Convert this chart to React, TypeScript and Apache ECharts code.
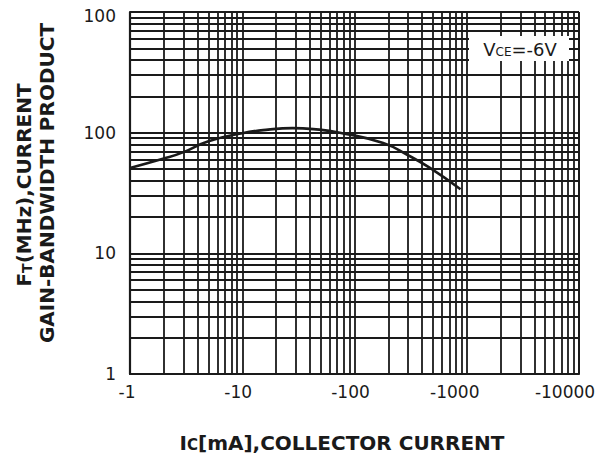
import React, { useEffect, useRef } from "react";
import * as echarts from "echarts";

// Curve: Ic (mA, magnitude) vs fT (MHz)
const icValues = [1, 2, 3, 5, 10, 17, 28, 43, 74, 180, 300, 470, 880];
const ftValues = [51, 61, 69, 85, 99, 106, 109, 107, 100, 82, 65, 51, 34];

// Axis tick labels (as printed on the datasheet)
const xTickLabels = ["-1", "-10", "-100", "-1000", "-10000"];
const yTickLabels = ["1", "10", "100", "100"];

// Minor grid multipliers within each decade
const minorMultipliers = [2, 3, 4, 5, 6, 7, 8, 9];
const xDecades = [1, 10, 100, 1000];
const yDecades = [1, 10, 100];

const INK = "#1a1a1a";
const FONT = "'DejaVu Sans', Verdana, sans-serif";

// label nudges (as on the printed sheet): right padding per x label, top padding per y label
const xLabelPad = [6, 8, 8, 24, 28];
const yLabelPad = [0, 0, 0, 8];

export default function App() {
  const ref = useRef<HTMLDivElement>(null);
  useEffect(() => {
    if (!ref.current) return;
    const chart = echarts.init(ref.current, undefined, { renderer: "svg" });

    const xMinor: number[] = [];
    xDecades.forEach((d) => minorMultipliers.forEach((m) => xMinor.push(d * m)));
    const yMinor: number[] = [];
    yDecades.forEach((d) => minorMultipliers.forEach((m) => yMinor.push(d * m)));

    const lineStyle = { color: INK, width: 1.8, type: "solid" as const };
    const tickFont = { fontSize: 17, fontFamily: FONT, color: INK };

    const xRich: Record<string, object> = {};
    xLabelPad.forEach((p, i) => (xRich["x" + i] = { ...tickFont, padding: [0, p, 0, 0] }));
    const yRich: Record<string, object> = {};
    yLabelPad.forEach((p, i) => (yRich["y" + i] = { ...tickFont, padding: [p, 0, 0, 0] }));

    chart.setOption({
      animation: false,
      backgroundColor: "#fff",
      grid: { left: 130, right: 33, top: 12, bottom: 95, containLabel: false },
      xAxis: {
        type: "log",
        logBase: 10,
        min: 1,
        max: 10000,
        axisLine: { show: true, lineStyle: { color: INK, width: 2.2 } },
        axisTick: { show: false },
        splitLine: { show: true, lineStyle: { color: INK, width: 1.8 } },
        axisLabel: {
          ...tickFont,
          margin: 9,
          rich: xRich,
          formatter: (v: number) => {
            const i = Math.round(Math.log10(v));
            return xTickLabels[i] !== undefined ? `{x${i}|${xTickLabels[i]}}` : "";
          },
        },
      },
      yAxis: {
        type: "log",
        logBase: 10,
        min: 1,
        max: 1000,
        axisLine: { show: true, lineStyle: { color: INK, width: 2.2 } },
        axisTick: { show: false },
        splitLine: { show: true, lineStyle: { color: INK, width: 1.8 } },
        axisLabel: {
          ...tickFont,
          margin: 14,
          rich: yRich,
          formatter: (v: number) => {
            const i = Math.round(Math.log10(v));
            return yTickLabels[i] !== undefined ? `{y${i}|${yTickLabels[i]}}` : "";
          },
        },
      },
      series: [
        {
          type: "line",
          data: [],
          silent: true,
          markLine: {
            silent: true,
            symbol: "none",
            animation: false,
            label: { show: false },
            lineStyle,
            data: [
              ...xMinor.map((v) => ({ xAxis: v })),
              ...yMinor.map((v) => ({ yAxis: v })),
              { xAxis: 10000 },
              { yAxis: 1000 },
            ],
          },
        },
        {
          type: "line",
          smooth: true,
          symbol: "none",
          z: 10,
          lineStyle: { color: INK, width: 2.6 },
          data: icValues.map((x, i) => [x, ftValues[i]]),
        },
      ],
      graphic: [
        {
          type: "rect",
          z: 100,
          shape: { x: 469, y: 36, width: 100, height: 25 },
          style: { fill: "#fff" },
        },
        {
          type: "text",
          z: 101,
          x: 520,
          y: 49,
          style: {
            text: "{a|V}{b|CE}{a|=-6V}",
            align: "center",
            verticalAlign: "middle",
            fill: INK,
            rich: {
              a: { fontSize: 18, fontFamily: FONT, fill: INK },
              b: { fontSize: 12, fontFamily: FONT, fill: INK, padding: [5, 0, 0, 0] },
            },
          },
        },
        {
          type: "text",
          z: 101,
          x: 24,
          y: 185,
          rotation: Math.PI / 2,
          style: {
            text: "{a|F}{b|T}{a|(MHz),CURRENT}",
            align: "center",
            verticalAlign: "middle",
            fill: INK,
            rich: {
              a: { fontSize: 20, fontWeight: "bold", fontFamily: FONT, fill: INK },
              b: { fontSize: 14, fontWeight: "bold", fontFamily: FONT, fill: INK, padding: [5, 0, 0, 0] },
            },
          },
        },
        {
          type: "text",
          z: 101,
          x: 47,
          y: 183,
          rotation: Math.PI / 2,
          style: {
            text: "GAIN-BANDWIDTH PRODUCT",
            align: "center",
            verticalAlign: "middle",
            fill: INK,
            fontSize: 20,
            fontWeight: "bold",
            fontFamily: FONT,
          },
        },
        {
          type: "text",
          z: 101,
          x: 342,
          y: 443,
          style: {
            text: "{a|I}{b|C}{a|[mA],COLLECTOR CURRENT}",
            align: "center",
            verticalAlign: "middle",
            fill: INK,
            rich: {
              a: { fontSize: 20, fontWeight: "bold", fontFamily: FONT, fill: INK },
              b: { fontSize: 15, fontWeight: "bold", fontFamily: FONT, fill: INK, padding: [4, 0, 0, 0] },
            },
          },
        },
      ],
    });
    return () => chart.dispose();
  }, []);
  return <div ref={ref} style={{ width: 612, height: 469, margin: -8 }} />;
}
